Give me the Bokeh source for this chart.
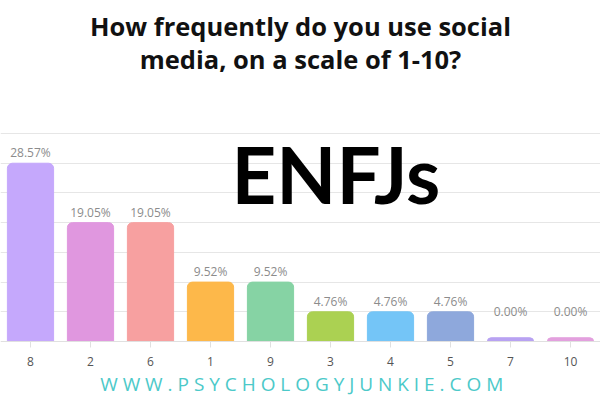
import numpy as np
from bokeh.plotting import figure
from bokeh.models import ColumnDataSource, FactorRange, Range1d, FixedTicker, Label
from bokeh.core.properties import value
from bokeh.embed import file_html
from bokeh.resources import INLINE

# ---- data ----
categories = ["8", "2", "6", "1", "9", "3", "4", "5", "7", "10"]
percentages = [28.57, 19.05, 19.05, 9.52, 9.52, 4.76, 4.76, 4.76, 0.00, 0.00]
bar_colors = ["#c5a8fc", "#e097df", "#f7a0a0", "#fdb84a", "#86d3a4",
              "#abd152", "#74c5f7", "#8ea8dc", "#b8a2f2", "#e3a0de"]
grid_ticks = [4.76, 9.52, 14.29, 19.05, 23.81, 28.57, 33.33]
title_lines = ["How frequently do you use social", "media, on a scale of 1-10?"]
big_label = "ENFJs"
footer = "W W W . P S Y C H O L O G Y J U N K I E . C O M"

vals = np.array(percentages)
src = ColumnDataSource(dict(
    cat=categories,
    val=vals,
    top=np.maximum(vals, 0.6),          # minimum visible bar height
    lab_y=np.maximum(vals, 3.2),
    lab=[f"{v:.2f}%" for v in vals],
    color=bar_colors,
))

p = figure(width=600, height=400, output_backend="svg", toolbar_location=None,
           x_range=FactorRange(*categories, range_padding=0),
           y_range=Range1d(-9.455, 54.65),
           min_border=0)
p.outline_line_color = None
p.background_fill_color = "white"
p.border_fill_color = "white"

p.vbar(x="cat", top="top", bottom=0, width=0.77, color="color", source=src,
       border_radius=(5, 5, 0, 0))

p.text(x="cat", y="lab_y", text="lab", source=src, text_align="center",
       text_baseline="bottom", y_offset=-2, text_font=value("Open Sans"),
       text_font_size="12px", text_color="#8c8c8c")

# axes / grid
p.yaxis.visible = False
p.ygrid.ticker = FixedTicker(ticks=grid_ticks)
p.ygrid.grid_line_color = "#e6e6e6"
p.xgrid.grid_line_color = None
p.xaxis.fixed_location = 0
p.xaxis.axis_line_color = "#e0e0e0"
p.xaxis.major_tick_line_color = "#e0e0e0"
p.xaxis.major_tick_in = 0
p.xaxis.major_tick_out = 6
p.xaxis.minor_tick_line_color = None
p.xaxis.major_label_standoff = 9
p.xaxis.major_label_text_font = "Open Sans"
p.xaxis.major_label_text_font_size = "12px"
p.xaxis.major_label_text_color = "#555555"

# texts
p.add_layout(Label(x=5, y=50.5, text=title_lines[0], text_align="center",
                   text_baseline="middle", text_font="Open Sans",
                   text_font_style="bold", text_font_size="25.5px",
                   text_color="#111111"))
p.add_layout(Label(x=5, y=45.2, text=title_lines[1], text_align="center",
                   text_baseline="middle", text_font="Open Sans",
                   text_font_style="bold", text_font_size="25.5px",
                   text_color="#111111"))
p.add_layout(Label(x=5.59, y=26.8, text=big_label, text_align="center",
                   text_baseline="middle", text_font="Lato",
                   text_font_style="bold", text_font_size="78px",
                   text_color="#000000"))
p.add_layout(Label(x=5.02, y=-6.75, text=footer, text_align="center",
                   text_baseline="middle", text_font="Open Sans",
                   text_font_size="19px", text_color="#4cc9c9"))

open("out.html", "w").write(file_html(p, INLINE))
